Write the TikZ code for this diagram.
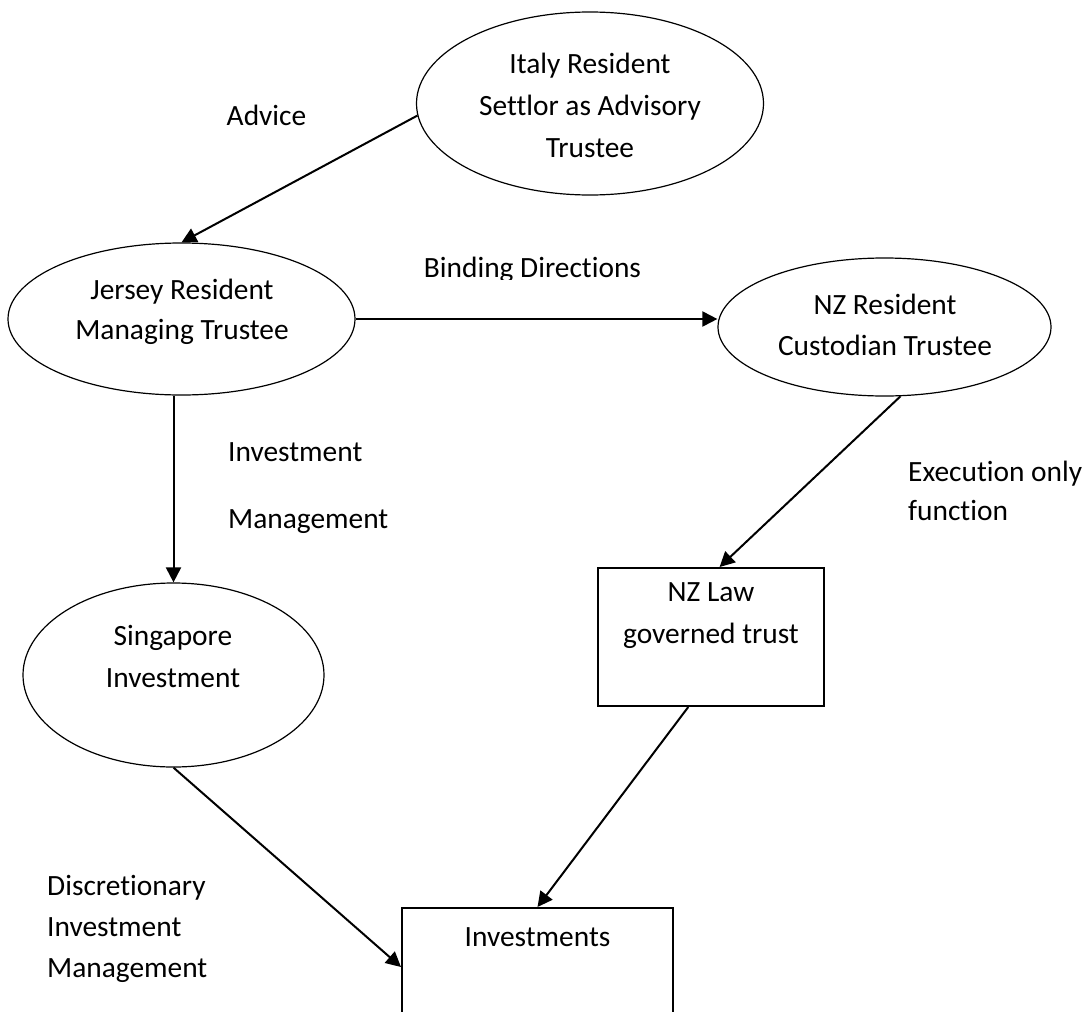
\documentclass[tikz,border=0pt]{standalone}
\usepackage{fontspec}
\setmainfont{Carlito}[Ligatures={NoCommon}]
\usetikzlibrary{shapes.geometric,arrows.meta}
\begin{document}
\begin{tikzpicture}[x=1pt,y=-1pt,
  oval/.style={draw, ellipse, line width=1.2pt, inner sep=0pt},
  box/.style={draw, rectangle, line width=2pt, inner sep=0pt},
  txt/.style={font=\fontsize{29.4}{42}\selectfont, align=center, inner sep=0pt},
  lbl/.style={font=\fontsize{29.4}{41}\selectfont, align=left, inner sep=0pt, anchor=west},
  arr/.style={line width=2pt, -{Triangle[length=15pt,width=15pt]}}]
\fill[white] (0,0) rectangle (1085,1012);
\useasboundingbox (0,0) rectangle (1085,1012);
\clip (0,0) rectangle (1085,1012);

% shapes
\node[oval, minimum width=347pt, minimum height=183pt] (italy) at (590,103.5) {};
\node[oval, minimum width=347pt, minimum height=152pt] (jersey) at (181.5,319) {};
\node[oval, minimum width=333pt, minimum height=138pt] (nzres) at (884.5,327) {};
\node[oval, minimum width=301pt, minimum height=184pt] (sing) at (173.5,675) {};
\node[box, minimum width=226pt, minimum height=138pt] (nzlaw) at (711,637) {};
\node[box, minimum width=271pt, minimum height=118pt] (invest) at (537.5,967) {};

% node texts
\node[txt] (italyT) at (590,105) {Italy Resident\\Settlor as Advisory\\Trustee};
\node[txt, font=\fontsize{29.4}{40}\selectfont] (jerseyT) at (182,312) {Jersey Resident\\Managing Trustee};
\node[txt, font=\fontsize{29.4}{41}\selectfont] (nzresT) at (885,324.5) {NZ Resident\\Custodian Trustee};
\node[txt] (singT) at (173,656) {Singapore\\Investment};
\node[txt] (nzlawT) at (711,616) {NZ Law\\governed trust};
\node[txt] (investT) at (537.5,937) {Investments};

% connector labels
\node[txt] (adviceL) at (266.5,115) {Advice};
\begin{scope}
\clip (380,240) rectangle (700,279);
\node[txt] (bindL) at (532.5,270) {Binding Directions};
\end{scope}
\node[lbl, font=\fontsize{29.4}{67}\selectfont] (invmgmtL) at (228,488.5) {Investment\\Management};
\node[lbl, font=\fontsize{29.4}{39}\selectfont] (execL) at (908,490.5) {Execution only\\function};
\node[lbl] (discL) at (47,929) {Discretionary\\Investment\\Management};

% connectors
\draw[arr] (italy.184) -- (jersey.north);
\draw[arr] (jersey.east) -- (jersey.east -| nzres.west);
\draw[arr] (jersey.south -| sing.north) -- (sing.north);
\draw[arr] (nzres.283) -- (nzlaw.83);
\draw[arr] (nzlaw.252) -- (invest.north);
\draw[arr] (sing.south) -- (invest.west);
\end{tikzpicture}
\end{document}
